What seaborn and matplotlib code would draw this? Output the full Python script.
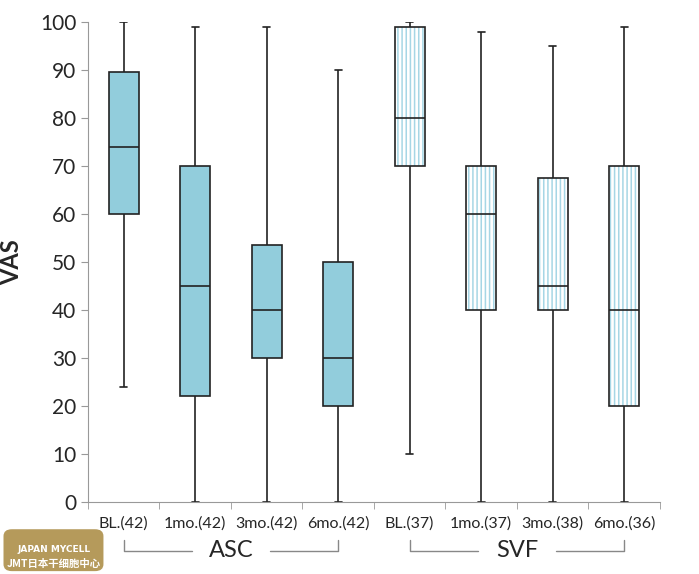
import numpy as np
import pandas as pd
import matplotlib.pyplot as plt
from matplotlib.patches import PathPatch, FancyBboxPatch
import seaborn as sns

# five-number summaries: min, q1, median, q3, max
labels = ['BL.(42)', '1mo.(42)', '3mo.(42)', '6mo.(42)',
          'BL.(37)', '1mo.(37)', '3mo.(38)', '6mo.(36)']
groups = ['ASC'] * 4 + ['SVF'] * 4
mins = [24, 0, 0, 0, 10, 0, 0, 0]
q1s = [60, 22, 30, 20, 70, 40, 40, 20]
medians = [74, 45, 40, 30, 80, 60, 45, 40]
q3s = [89.5, 70, 53.5, 50, 99, 70, 67.5, 70]
maxs = [100, 99, 99, 90, 100, 98, 95, 99]

rows = []
for lab, g, a, b, c, d, e in zip(labels, groups, mins, q1s, medians, q3s, maxs):
    for v in (a, b, c, d, e):
        rows.append({'time': lab, 'group': g, 'VAS': v})
df = pd.DataFrame(rows)

sns.set_style('white')
plt.rcParams['font.family'] = ['Lato', 'DejaVu Sans']
plt.rcParams['hatch.linewidth'] = 1.1

fig = plt.figure(figsize=(6.99, 5.74), dpi=100)
ax = fig.add_axes([0.1259, 0.1254, 0.8181, 0.8363])

blue = '#92CDDC'
sns.boxplot(data=df, x='time', y='VAS', hue='group', order=labels,
            palette={'ASC': blue, 'SVF': 'white'}, whis=np.inf, width=0.42,
            dodge=False, legend=False, linecolor='#222222', linewidth=1.2,
            saturation=1, capwidths=0.1, ax=ax)

# vertical light-blue stripes for SVF boxes
for p, g in zip([pp for pp in ax.patches if isinstance(pp, PathPatch)], groups):
    if g == 'SVF':
        p.set_edgecolor('#A6D6E5')
        p.set_hatch('||||')
        p.set_linewidth(0)
        ax.add_patch(PathPatch(p.get_path(), transform=p.get_transform(),
                               fill=False, ec='#222222', lw=1.2, zorder=3))

ax.set_xlim(-0.5, 7.5)
ax.set_ylim(0, 100)
ax.set_yticks(range(0, 101, 10))
ax.tick_params(axis='y', labelsize=15, length=5, color='#999999', left=True)
ax.set_xticks(range(len(labels)))
ax.set_xticklabels(labels, fontsize=11.5)
ax.set_xticks(np.arange(-0.5, 8, 1), minor=True)
ax.tick_params(axis='x', which='major', length=0, pad=10)
ax.tick_params(axis='x', which='minor', length=5, color='#999999', bottom=True)
ax.set_xlabel('')
ax.set_ylabel('VAS', fontsize=17, fontweight='bold', labelpad=12)
for s in ['top', 'right']:
    ax.spines[s].set_visible(False)
for s in ['left', 'bottom']:
    ax.spines[s].set_color('#999999')

# group brackets below the tick labels
def bracket(x0, x1, text):
    trans = ax.get_xaxis_transform()
    xm = (x0 + x1) / 2
    y = -0.102
    kw = dict(color='#888888', lw=1, transform=trans, clip_on=False)
    ax.plot([x0, x0, xm - 0.55], [y + 0.022, y, y], **kw)
    ax.plot([xm + 0.55, x1, x1], [y, y, y + 0.022], **kw)
    ax.text(xm, y, text, transform=trans, ha='center', va='center', fontsize=17)

bracket(0, 3, 'ASC')
bracket(4, 7, 'SVF')

# watermark badge
fig.patches.append(FancyBboxPatch((0.005, 0.005), 0.143, 0.073, boxstyle='round,pad=0,rounding_size=0.012',
                                  transform=fig.transFigure, fc='#B59A5B', ec='none'))
fig.text(0.077, 0.043, 'JAPAN MYCELL', ha='center', va='center', fontsize=6.5,
         color='white', fontweight='bold', family=['DejaVu Sans'])
fig.text(0.077, 0.018, 'JMT日本干细胞中心', ha='center', va='center', fontsize=7.5,
         color='white', fontweight='bold', family=['Noto Sans CJK SC', 'DejaVu Sans'])

fig.savefig('out.png', dpi=100)
